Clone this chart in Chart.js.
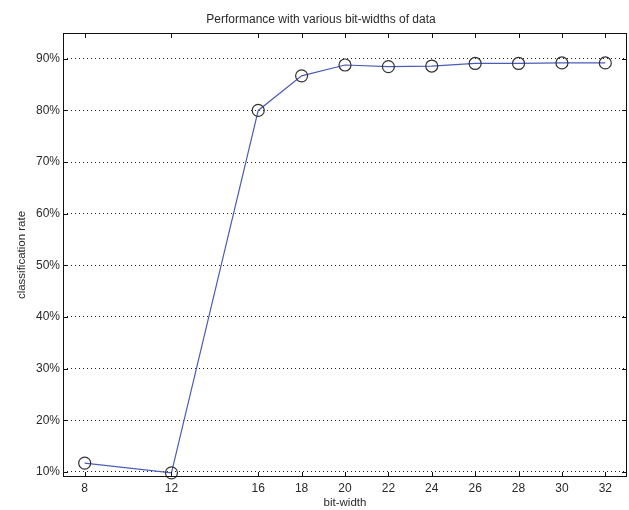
<!DOCTYPE html>
<html>
<head>
<meta charset="utf-8">
<script src="https://cdn.jsdelivr.net/npm/chart.js@4.4.1/dist/chart.umd.min.js"></script>
<style>
  html, body { margin: 0; padding: 0; background: #fff; }
  #wrap { width: 629px; height: 510px; }
</style>
</head>
<body>
<div id="wrap"><canvas id="perfChart"></canvas></div>
<script>
// Data
const bitWidths = [8, 12, 16, 18, 20, 22, 24, 26, 28, 30, 32];
const classRate = [11.7, 9.8, 80.0, 86.7, 88.8, 88.5, 88.6, 89.1, 89.1, 89.2, 89.2];
const xTickValues = [8, 12, 16, 18, 20, 22, 24, 26, 28, 30, 32];
const yTickValues = [10, 20, 30, 40, 50, 60, 70, 80, 90];

const FONT = 'Liberation Sans, Arial, sans-serif';
const TEXT = '#2a2a2a';

// Box around the plot with inward tick marks (matlab look)
const frameTicks = {
    id: 'frameTicks',
    afterDraw(chart) {
        const { ctx, chartArea: a, scales } = chart;
        ctx.save();
        ctx.strokeStyle = '#111';
        ctx.lineWidth = 1;
        ctx.setLineDash([]);
        ctx.strokeRect(a.left + 0.5, a.top + 0.5, a.right - a.left - 1, a.bottom - a.top - 1);
        ctx.beginPath();
        xTickValues.forEach(v => {
            const px = Math.round(scales.x.getPixelForValue(v)) + 0.5;
            ctx.moveTo(px, a.top); ctx.lineTo(px, a.top + 5);
            ctx.moveTo(px, a.bottom); ctx.lineTo(px, a.bottom - 5);
        });
        yTickValues.forEach(v => {
            const py = Math.round(scales.y.getPixelForValue(v)) + 0.5;
            ctx.moveTo(a.left, py); ctx.lineTo(a.left + 5, py);
            ctx.moveTo(a.right, py); ctx.lineTo(a.right - 5, py);
        });
        ctx.stroke();
        ctx.restore();
    }
};

const ctx = document.getElementById('perfChart');
new Chart(ctx, {
    type: 'line',
    data: {
        datasets: [{
            data: bitWidths.map((b, i) => ({ x: b, y: classRate[i] })),
            borderColor: '#4b5cb8',
            borderWidth: 1.2,
            pointRadius: 6,
            pointHoverRadius: 6,
            pointBorderColor: '#333',
            pointBackgroundColor: 'rgba(0,0,0,0)',
            pointBorderWidth: 1.2,
            tension: 0,
            clip: false
        }]
    },
    options: {
        responsive: true,
        maintainAspectRatio: false,
        animation: false,
        layout: { autoPadding: false, padding: { left: 15, right: 2, top: 0, bottom: 0 } },
        plugins: {
            legend: { display: false },
            tooltip: { enabled: false },
            title: {
                display: true,
                text: 'Performance with various bit-widths of data',
                color: TEXT,
                font: { family: FONT, size: 12, weight: 'normal', lineHeight: 1.2 },
                padding: { top: 12, bottom: 6.6 }
            }
        },
        scales: {
            x: {
                type: 'linear',
                min: 7,
                max: 33,
                afterBuildTicks: s => { s.ticks = xTickValues.map(v => ({ value: v })); },
                afterFit: s => { s.height = 33; s.paddingLeft = 0; s.paddingRight = 0; },
                grid: { display: false, drawTicks: false },
                border: { display: false },
                ticks: {
                    color: TEXT,
                    padding: 4,
                    maxRotation: 0,
                    autoSkip: false,
                    font: { family: FONT, size: 12 }
                },
                title: {
                    display: true,
                    text: 'bit-width',
                    color: TEXT,
                    padding: { top: 0, bottom: 0 },
                    font: { family: FONT, size: 11.5, lineHeight: 1.2 }
                }
            },
            y: {
                min: 9,
                max: 95,
                afterBuildTicks: s => { s.ticks = yTickValues.map(v => ({ value: v })); },
                afterFit: s => { s.width = 48; },
                grid: {
                    color: '#222',
                    lineWidth: 1,
                    drawTicks: false
                },
                border: { display: false, dash: [1, 3] },
                ticks: {
                    color: TEXT,
                    padding: 3,
                    autoSkip: false,
                    callback: v => v + '%',
                    font: { family: FONT, size: 12 }
                },
                title: {
                    display: true,
                    text: 'classification rate',
                    color: TEXT,
                    padding: { top: 0, bottom: 0 },
                    font: { family: FONT, size: 11.5, lineHeight: 1.2 }
                }
            }
        }
    },
    plugins: [frameTicks]
});
</script>
</body>
</html>
